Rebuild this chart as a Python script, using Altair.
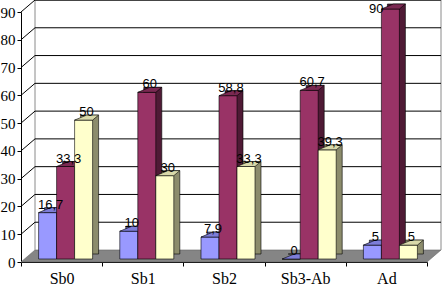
import altair as alt
import pandas as pd

# ---- data ----
categories = ["Sb0", "Sb1", "Sb2", "Sb3-Ab", "Ad"]
series_a = [16.7, 10, 7.9, 0, 5]
series_b = [33.3, 60, 58.8, 60.7, 90]
series_c = [50, 30, 33.3, 39.3, 5]
y_ticks = [0, 10, 20, 30, 40, 50, 60, 70, 80, 90]

# ---- styles ----
front_cols = ["#9999FF", "#993366", "#FFFFCC"]
top_cols = ["#7d7dd8", "#7a2952", "#d9d9aa"]
side_cols = ["#5f5f9c", "#4f1a35", "#8c8c6c"]
bar_shift = [-14, 4, 22]       # pixel shift of each series inside a band
W, H = 406, 250
DX, DY = 6, -5                 # 3D depth

rows = []
for si, vals in enumerate([series_a, series_b, series_c]):
    for c, v in zip(categories, vals):
        rows.append({"cat": c, "value": v, "s": si,
                     "lab": ("%g" % v).replace(".", ",")})
df = pd.DataFrame(rows)
ticks_df = pd.DataFrame({"v": y_ticks})
one = pd.DataFrame({"a": [0]})

yscale = alt.Scale(domain=[0, 90], nice=False, zero=True)
xscale = alt.Scale(paddingInner=0, paddingOuter=0)

yaxis = alt.Axis(values=y_ticks, tickSize=4, labelFont="Liberation Serif",
                 labelFontSize=15, labelColor="black", labelPadding=2,
                 domainColor="black", tickColor="black", grid=False)
X = alt.X("cat:N", sort=categories, scale=xscale, title=None,
          axis=alt.Axis(labelAngle=0, tickBand="extent", tickSize=4,
                        labelFont="Liberation Serif", labelFontSize=16,
                        labelColor="black", labelPadding=4,
                        domainColor="black", tickColor="black", grid=False))
Y = alt.Y("value:Q", scale=yscale, title=None, axis=yaxis)
YV = alt.Y("v:Q", scale=yscale, title=None, axis=yaxis)

layers = []

# floor (parallelogram)
floor_path = "M-1,0.0286L0.9333,0.0286L1,-0.0286L-0.9333,-0.0286Z"
layers.append(alt.Chart(one).mark_point(
    shape=floor_path, size=(2 * 210) ** 2, filled=True, fill="#858585",
    stroke="#666666", strokeWidth=0.6, opacity=1
).encode(x=alt.value(210), y=alt.value(244)))

# back wall border
wall = "#8a8a8a"
layers.append(alt.Chart(one).mark_rule(color=wall, strokeWidth=1).encode(
    x=alt.value(14), y=alt.value(-12), y2=alt.value(238)))
layers.append(alt.Chart(one).mark_rule(color=wall, strokeWidth=1).encode(
    x=alt.value(420), y=alt.value(-12), y2=alt.value(238)))
layers.append(alt.Chart(one).mark_rule(color=wall, strokeWidth=1).encode(
    x=alt.value(14), x2=alt.value(420), y=alt.value(-11.5)))

# gridlines on the back wall and side wall
grid_df = ticks_df[ticks_df.v > 0]
layers.append(alt.Chart(grid_df).mark_rule(color="black", strokeWidth=1, yOffset=-12).encode(
    x=alt.value(14), x2=alt.value(420), y=YV))
layers.append(alt.Chart(grid_df).mark_rule(color="black", strokeWidth=1, y2Offset=-12).encode(
    x=alt.value(0), x2=alt.value(14), y=YV, y2=alt.Y2("v:Q")))

top_path = "M-0.9,0L0.9,0L1.5,-0.5L0.3,-0.5Z"   # unit = 10px
for si in range(3):
    d = alt.Chart(df).transform_filter(alt.datum.s == si)
    b = bar_shift[si]
    layers.append(d.mark_bar(width=18, color=side_cols[si], stroke="black",
                             strokeWidth=0.6, xOffset=b + DX,
                             yOffset=-3 + DY, y2Offset=-3 + DY).encode(x=X, y=Y))
    layers.append(d.mark_bar(width=18, color=front_cols[si], stroke="black",
                             strokeWidth=0.6, xOffset=b,
                             yOffset=-3, y2Offset=-3).encode(x=X, y=Y))
    layers.append(d.mark_point(shape=top_path, size=400, filled=True,
                               fill=top_cols[si], stroke="black", strokeWidth=0.6,
                               opacity=1, xOffset=b, yOffset=-3).encode(x=X, y=Y))

# data labels (comma decimals); labels at the very top are pushed left and down
for si in range(3):
    base = alt.Chart(df).transform_filter(alt.datum.s == si)
    layers.append(base.transform_filter(alt.datum.value < 88).mark_text(
        font="Liberation Sans", fontSize=13, color="black",
        baseline="alphabetic", align="center",
        dx=bar_shift[si] + 3, dy=-7).encode(x=X, y=Y, text="lab:N"))
    layers.append(base.transform_filter(alt.datum.value >= 88).mark_text(
        font="Liberation Sans", fontSize=13, color="black",
        baseline="top", align="right",
        dx=bar_shift[si] - 7, dy=-9).encode(x=X, y=Y, text="lab:N"))

chart = alt.layer(*layers).properties(
    width=W, height=H,
    autosize="none",
    padding={"left": 21, "top": 12, "right": 15, "bottom": 25},
    background="white",
).configure_view(stroke=None)

chart.save("out.html", embed_options={"renderer": "svg", "actions": False})
